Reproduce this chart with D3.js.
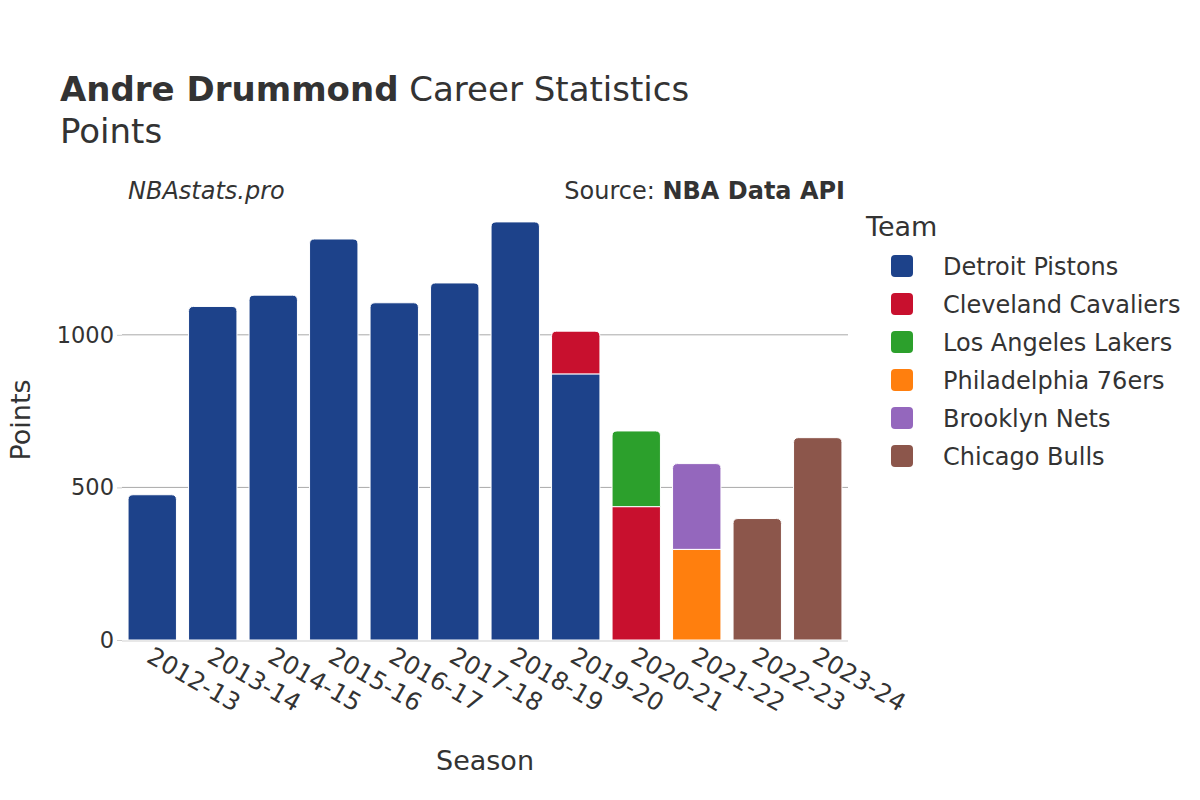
<!DOCTYPE html>
<html lang="en">
<head>
<meta charset="UTF-8">
<title>Andre Drummond Career Statistics</title>
<script src="https://cdn.jsdelivr.net/npm/d3@7"></script>
<style>
  body { margin: 0; background: #fff; }
  text { font-family: "DejaVu Sans", sans-serif; fill: #333; }
</style>
</head>
<body>
<script>
  // data
  var seasons = ["2012-13", "2013-14", "2014-15", "2015-16", "2016-17", "2017-18",
                 "2018-19", "2019-20", "2020-21", "2021-22", "2022-23", "2023-24"];
  var teams = ["Detroit Pistons", "Cleveland Cavaliers", "Los Angeles Lakers",
               "Philadelphia 76ers", "Brooklyn Nets", "Chicago Bulls"];
  var teamColors = ["#1d428a", "#c8102e", "#2ca02c", "#ff7f0e", "#9467bd", "#8c564b"];

  var detroit   = [476, 1093, 1130, 1314, 1105, 1170, 1370, 872, 0, 0, 0, 0];
  var cleveland = [0, 0, 0, 0, 0, 0, 0, 140, 437, 0, 0, 0];
  var lakers    = [0, 0, 0, 0, 0, 0, 0, 0, 248, 0, 0, 0];
  var philly    = [0, 0, 0, 0, 0, 0, 0, 0, 0, 297, 0, 0];
  var nets      = [0, 0, 0, 0, 0, 0, 0, 0, 0, 281, 0, 0];
  var bulls     = [0, 0, 0, 0, 0, 0, 0, 0, 0, 0, 398, 663];
  var yTicks = [0, 500, 1000];

  var w = 1200, h = 800;
  var m = {left: 122, right: 848, top: 201, bottom: 640};

  var table = seasons.map(function(s, i){
    return {season: s, "Detroit Pistons": detroit[i], "Cleveland Cavaliers": cleveland[i],
      "Los Angeles Lakers": lakers[i], "Philadelphia 76ers": philly[i],
      "Brooklyn Nets": nets[i], "Chicago Bulls": bulls[i]};
  });
  var series = d3.stack().keys(teams)(table);

  var svg = d3.select("body").append("svg").attr("width", w).attr("height", h);

  var x = d3.scaleBand().domain(seasons).range([m.left, m.right])
    .paddingInner(0.2).paddingOuter(0.1);
  var maxTotal = d3.max(table, function(d){ return d3.sum(teams, function(t){ return d[t]; }); });
  var y = d3.scaleLinear().domain([0, maxTotal * 1.05]).range([m.bottom, m.top]);

  // grid
  svg.append("g").selectAll("line").data(yTicks.filter(function(t){ return t > 0; }))
    .enter().append("line")
    .attr("x1", m.left).attr("x2", m.right)
    .attr("y1", function(d){ return y(d); }).attr("y2", function(d){ return y(d); })
    .attr("stroke", "#aaa").attr("stroke-width", 1);

  // y axis
  var yAxis = svg.append("g").attr("transform", "translate(" + m.left + ",0)")
    .call(d3.axisLeft(y).tickValues(yTicks).tickSize(5).tickPadding(3).tickFormat(d3.format("d")));
  yAxis.select(".domain").remove();
  yAxis.selectAll("line").attr("stroke", "#ccc");
  yAxis.selectAll("text").attr("font-size", 22.5).attr("fill", "#333")
    .style("font-family", "DejaVu Sans");

  // which segment is the top of each season
  var topKey = table.map(function(d){
    var k = null;
    teams.forEach(function(t){ if (d[t] > 0) k = t; });
    return k;
  });

  function barPath(x0, y0, bw, y1, r){
    var hgt = y0 - y1;
    r = Math.min(r, hgt / 2, bw / 2);
    return "M" + x0 + "," + y0 + "V" + (y1 + r) +
      "Q" + x0 + "," + y1 + " " + (x0 + r) + "," + y1 +
      "H" + (x0 + bw - r) +
      "Q" + (x0 + bw) + "," + y1 + " " + (x0 + bw) + "," + (y1 + r) +
      "V" + y0 + "Z";
  }

  series.forEach(function(s, si){
    svg.append("g").selectAll("path").data(s.filter(function(d){ return d[1] - d[0] > 0; }))
      .enter().append("path")
      .attr("d", function(d){
        var i = seasons.indexOf(d.data.season);
        var r = topKey[i] === s.key ? 5 : 0;
        return barPath(x(d.data.season), y(d[0]), x.bandwidth(), y(d[1]), r);
      })
      .attr("fill", teamColors[si])
      .attr("stroke", "#fff").attr("stroke-width", 1);
  });

  // zero line
  svg.append("line").attr("x1", m.left).attr("x2", m.right)
    .attr("y1", y(0) + 1).attr("y2", y(0) + 1)
    .attr("stroke", "#e8e8e8").attr("stroke-width", 2);

  // x tick labels
  svg.append("g").selectAll("text").data(seasons).enter().append("text")
    .attr("transform", function(d){
      return "translate(" + (x(d) + x.bandwidth() / 2 - 7) + ",661) rotate(30)";
    })
    .attr("font-size", 24.5)
    .text(function(d){ return d; });

  // axis titles
  svg.append("text").attr("x", (m.left + m.right) / 2).attr("y", 770)
    .attr("text-anchor", "middle").attr("font-size", 27).text("Season");
  svg.append("text").attr("transform", "translate(30,420) rotate(-90)")
    .attr("text-anchor", "middle").attr("font-size", 27).text("Points");

  // titles
  var t = svg.append("text").attr("x", 60).attr("y", 101).attr("font-size", 34);
  t.append("tspan").attr("font-weight", "bold").text("Andre Drummond");
  t.append("tspan").text(" Career Statistics");
  svg.append("text").attr("x", 60).attr("y", 143).attr("font-size", 34).text("Points");

  svg.append("text").attr("x", 128).attr("y", 199).attr("font-size", 24)
    .attr("font-style", "italic").text("NBAstats.pro");
  var src = svg.append("text").attr("x", 845).attr("y", 199).attr("font-size", 24)
    .attr("text-anchor", "end");
  src.append("tspan").text("Source: ");
  src.append("tspan").attr("font-weight", "bold").text("NBA Data API");

  // legend
  svg.append("text").attr("x", 866).attr("y", 236).attr("font-size", 27).text("Team");
  var lg = svg.append("g").selectAll("g").data(teams).enter().append("g")
    .attr("transform", function(d, i){ return "translate(891," + (266 + i * 38) + ")"; });
  lg.append("rect").attr("x", 0).attr("y", -11).attr("width", 22).attr("height", 22)
    .attr("rx", 4).attr("fill", function(d, i){ return teamColors[i]; });
  lg.append("text").attr("x", 52).attr("y", 9).attr("font-size", 24)
    .text(function(d){ return d; });
</script>
</body>
</html>
